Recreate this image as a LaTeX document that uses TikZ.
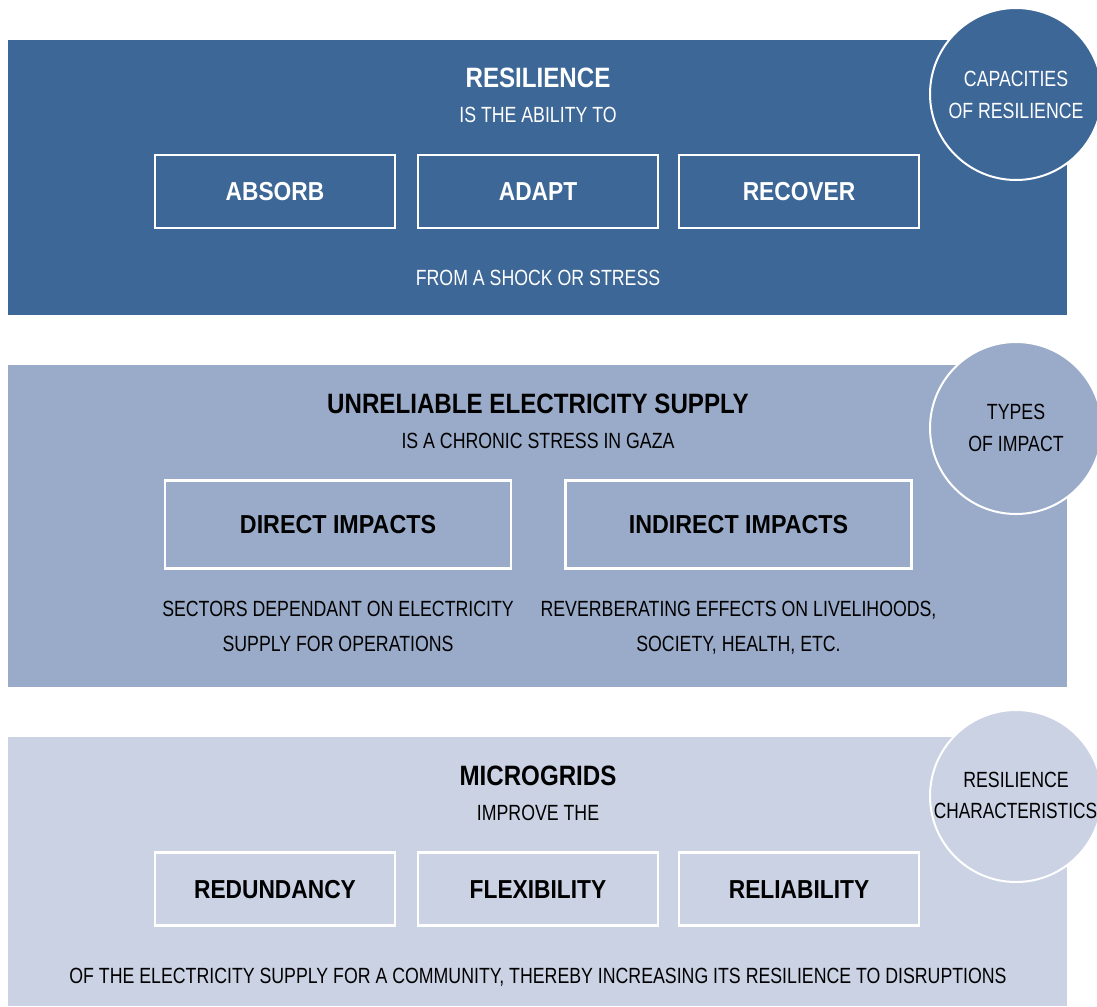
\documentclass[tikz,border=0pt]{standalone}
\usepackage{fontspec}
\setmainfont{Liberation Sans}
\definecolor{bA}{HTML}{3C6797}
\definecolor{bB}{HTML}{9AABC9}
\definecolor{bC}{HTML}{CAD2E4}
\tikzset{x=0.03514cm,y=-0.03514cm,
 lbl/.style={inner sep=0,align=center,text height=15.8pt,text depth=0pt,font=\fontsize{22}{24}\selectfont\addfontfeature{FakeStretch=0.806}},
 tightlbl/.style={lbl,font=\fontsize{22}{24}\selectfont\addfontfeature{FakeStretch=0.785}},
 ttl/.style={inner sep=0,text height=20pt,text depth=0pt,font=\fontsize{28}{30}\selectfont\bfseries\addfontfeature{FakeStretch=0.862}},
 boxt/.style={draw=white,line width=2.2pt,inner sep=0,align=center,text height=18.6pt,text depth=0pt,font=\fontsize{26}{28}\selectfont\bfseries\addfontfeature{FakeStretch=0.875}},
 wide/.style={minimum width=240*0.03514cm,minimum height=73*0.03514cm},
 big/.style={minimum width=346*0.03514cm,minimum height=88*0.03514cm,font=\fontsize{26}{28}\selectfont\bfseries\addfontfeature{FakeStretch=0.895}},
 circ/.style={circle,draw=white,line width=2pt,minimum size=172*0.03514cm,inner sep=0,align=center},
}
\begin{document}
\begin{tikzpicture}
\useasboundingbox (0,0) rectangle (1097,1006);
\fill[bA] (8,40) rectangle (1067,315);
\fill[bB] (8,365) rectangle (1067,687);
\fill[bC] (8,737) rectangle (1067,1006);
\begin{scope}
\clip (0,0) rectangle (1097,1006);
\node[circ,fill=bA] (c1) at (1016,94) {};
\node[circ,fill=bB] (c2) at (1016,428) {};
\node[circ,fill=bC] (c3) at (1016,796) {};
\end{scope}
\node[lbl,text=white] (c1a) at (1016,79) {CAPACITIES};
\node[lbl,text=white] (c1b) at (1016,111) {OF RESILIENCE};
\node[lbl] (c2a) at (1016,412) {TYPES};
\node[lbl] (c2b) at (1016,444) {OF IMPACT};
\node[lbl] (c3a) at (1016,780) {RESILIENCE};
\node[tightlbl] (c3b) at (1015.5,811) {CHARACTERISTICS};
\node[ttl,text=white] (t1) at (538,77.5) {RESILIENCE};
\node[lbl,text=white] (s1) at (538,115) {IS THE ABILITY TO};
\node[boxt,wide,text=white] (a1) at (275,191.5) {ABSORB};
\node[boxt,wide,text=white] (a2) at (538,191.5) {ADAPT};
\node[boxt,wide,text=white] (a3) at (799,191.5) {RECOVER};
\node[lbl,text=white] (f1) at (538,278) {FROM A SHOCK OR STRESS};
\node[ttl] (t2) at (538,403.5) {UNRELIABLE ELECTRICITY SUPPLY};
\node[lbl] (s2) at (538,441) {IS A CHRONIC STRESS IN GAZA};
\node[boxt,big] (b1) at (338,524.5) {DIRECT IMPACTS};
\node[boxt,big] (b2) at (738.5,524.5) {INDIRECT IMPACTS};
\node[lbl] (d1) at (338,609) {SECTORS DEPENDANT ON ELECTRICITY};
\node[lbl] (d2) at (338,644) {SUPPLY FOR OPERATIONS};
\node[lbl] (d3) at (738.5,609) {REVERBERATING EFFECTS ON LIVELIHOODS,};
\node[lbl] (d4) at (738.5,644) {SOCIETY, HEALTH, ETC.};
\node[ttl] (t3) at (538,775.5) {MICROGRIDS};
\node[lbl] (s3) at (538,813) {IMPROVE THE};
\node[boxt,wide] (e1) at (275,889) {REDUNDANCY};
\node[boxt,wide] (e2) at (538,889) {FLEXIBILITY};
\node[boxt,wide] (e3) at (799,889) {RELIABILITY};
\node[lbl] (f3) at (538,976) {OF THE ELECTRICITY SUPPLY FOR A COMMUNITY, THEREBY INCREASING ITS RESILIENCE TO DISRUPTIONS};
\end{tikzpicture}
\end{document}
